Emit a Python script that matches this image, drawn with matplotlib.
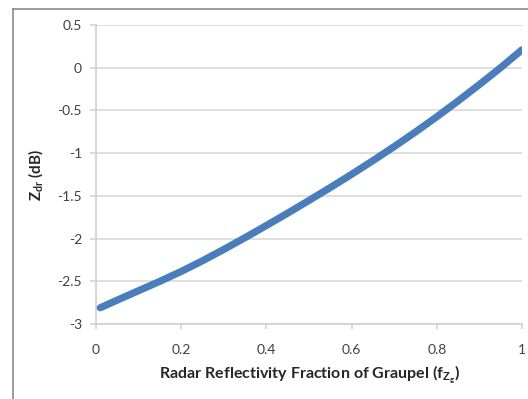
import numpy as np
import matplotlib
matplotlib.use("Agg")
from matplotlib import pyplot as plt
from matplotlib.lines import Line2D

plt.rcParams['font.family'] = ['Lato', 'DejaVu Sans']
plt.rcParams['mathtext.fontset'] = 'custom'
plt.rcParams['mathtext.rm'] = 'Lato'
plt.rcParams['mathtext.it'] = 'Lato:italic'
plt.rcParams['mathtext.bf'] = 'Lato:bold'

# radar reflectivity fraction of graupel and resulting differential reflectivity
f_zg = [0.01, 0.05, 0.10, 0.15, 0.20, 0.25, 0.30, 0.35, 0.40, 0.45, 0.50,
        0.55, 0.60, 0.65, 0.70, 0.75, 0.80, 0.85, 0.90, 0.95, 1.00]
zdr = [-2.81, -2.72, -2.61, -2.50, -2.385, -2.26, -2.127, -1.989, -1.847, -1.702, -1.554,
       -1.403, -1.248, -1.088, -0.923, -0.752, -0.574, -0.389, -0.197, 0.001, 0.21]

xticks = [0, 0.2, 0.4, 0.6, 0.8, 1]
xticklabels = ['0', '0.2', '0.4', '0.6', '0.8', '1']
yticks = [-3, -2.5, -2, -1.5, -1, -0.5, 0, 0.5]
yticklabels = ['-3', '-2.5', '-2', '-1.5', '-1', '-0.5', '0', '0.5']

W, H = 528, 399
fig = plt.figure(figsize=(W/100, H/100), dpi=100)

# chart area frame
fig.add_artist(Line2D([13/W, 13/W], [0, 1 - 9/H], color='#8a8a8a', lw=1.2))
fig.add_artist(Line2D([13/W, 1], [1 - 9/H, 1 - 9/H], color='#8a8a8a', lw=1.2))

ax = fig.add_axes([96/W, (H - 324)/H, 426/W, 299/H])
ax.plot(f_zg, zdr, color='#4a7dbb', lw=5.2, solid_capstyle='round',
        solid_joinstyle='round', zorder=3)

ax.set_xlim(0, 1)
ax.set_ylim(-3, 0.5)
ax.set_xticks(xticks)
ax.set_xticklabels(xticklabels)
ax.set_yticks(yticks)
ax.set_yticklabels(yticklabels)
ax.grid(axis='y', color='#d9d9d9', lw=1.2)
ax.set_axisbelow(True)
for s in ['top', 'right']:
    ax.spines[s].set_visible(False)
for s in ['left', 'bottom']:
    ax.spines[s].set_color('#cfcfcf')
    ax.spines[s].set_linewidth(1.2)
ax.tick_params(axis='both', colors='#cfcfcf', labelcolor='#404040', labelsize=10, width=1.1)
ax.tick_params(axis='y', length=4, pad=6)
ax.tick_params(axis='x', length=3.5, pad=11)

ax.set_xlabel(r'Radar Reflectivity Fraction of Graupel ($\mathbf{f_{Z_g}}$)',
              fontsize=11.5, fontweight='bold', color='#262626', labelpad=5)
ax.set_ylabel(r'$\mathbf{Z_{dr}}$ (dB)', fontsize=11, fontweight='bold',
              color='#262626', labelpad=9)

plt.savefig('out.png', dpi=100)
